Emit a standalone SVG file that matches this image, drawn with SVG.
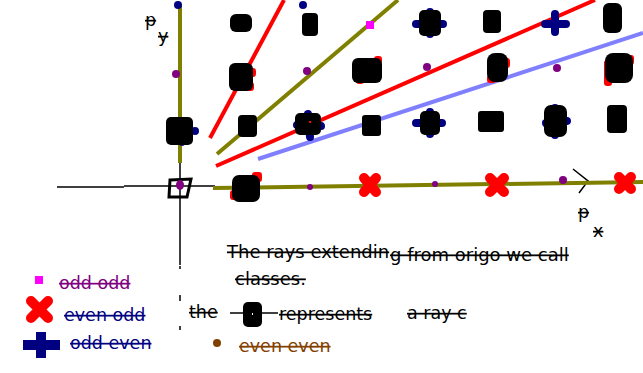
<svg xmlns="http://www.w3.org/2000/svg" width="643" height="373" viewBox="0 0 643 373">
<style>
text{font-family:"DejaVu Sans",Verdana,sans-serif;font-size:17.5px;text-decoration:line-through;}
.big{font-size:18px}
.blk{fill:#000}
.axis{stroke:#000;stroke-width:1.5;fill:none}
.ray{stroke-width:4;fill:none}
.pur{fill:#800080}
.nav{fill:#000080}
.rx{stroke:#ff0000;stroke-width:10;stroke-linecap:round;fill:none}
.bp{stroke:#000080;stroke-width:8;stroke-linecap:round;fill:none}
.rd{fill:#ff0000}
</style>
<rect width="643" height="373" fill="#fff"/>
<g id="axes">
<line class="axis" x1="57" y1="187" x2="124" y2="187"/>
<line class="axis" x1="124" y1="186" x2="215" y2="186"/>
<line class="axis" x1="180" y1="80" x2="180" y2="265"/>
<line class="axis" x1="180" y1="266" x2="180" y2="269"/>
<line class="axis" x1="180" y1="295" x2="180" y2="301"/>
<line class="axis" x1="180" y1="326" x2="180" y2="330"/>
<polyline class="axis" points="573,169 588,181 579,193" stroke-width="1"/>
</g>
<g id="connectors">
<line class="ray" stroke="#808000" x1="180" y1="6" x2="180" y2="163"/>
<line class="ray" stroke="#808000" x1="213" y1="188" x2="643" y2="182"/>
<line class="ray" stroke="#ff0000" x1="210" y1="138" x2="284" y2="0"/>
<line class="ray" stroke="#808000" x1="217" y1="154" x2="398" y2="0"/>
<line class="ray" stroke="#ff0000" x1="216" y1="166" x2="595" y2="0"/>
<line class="ray" stroke="#8080ff" x1="258" y1="159" x2="643" y2="33"/>
</g>
<g id="origin">
<path d="M170,180 L191,179 L187,197 L169,197 Z" fill="none" stroke="#000" stroke-width="3"/>
<ellipse class="pur" cx="180" cy="185" rx="4" ry="5"/>
</g>
<g id="row0">
<g id="n1_0"><rect class="rd" x="252" y="172" width="10" height="10" rx="3"/><rect class="rd" x="230" y="190" width="8" height="10" rx="3"/><rect class="blk" x="232" y="175" width="28" height="27" rx="7"/></g>
<circle class="pur" cx="310" cy="187" r="3"/>
<g id="n3_0"><path class="rx" d="M364,178 L376,192 M376,178 L364,192"/></g>
<circle class="pur" cx="435" cy="184" r="3"/>
<g id="n5_0"><path class="rx" d="M490,178 L504,192 M504,178 L490,192"/></g>
<circle class="pur" cx="563" cy="180" r="4"/>
<g id="n7_0"><path class="rx" d="M619,177 L631,189 M631,177 L619,189"/></g>
</g>
<g id="row1">
<g id="n0_1"><circle class="nav" cx="195" cy="131" r="4"/><circle class="nav" cx="182" cy="143" r="3"/><rect class="blk" x="166" y="117" width="27" height="28" rx="5"/></g>
<g id="n1_1"><rect class="blk" x="238" y="115" width="19" height="22" rx="4"/></g>
<g id="n2_1"><path class="bp" d="M308,114 L310,137 M297,125 L321,126"/><rect class="blk" x="295" y="113" width="26" height="22" rx="5"/><rect x="309" y="121" width="2" height="2" fill="#ff0000"/></g>
<g id="n3_1"><rect class="blk" x="362" y="115" width="19" height="21" rx="3"/></g>
<g id="n4_1"><path class="bp" d="M430,112 L430,134 M416,123 L442,123"/><rect class="blk" x="420" y="111" width="20" height="24" rx="5"/></g>
<g id="n5_1"><rect class="blk" x="478" y="111" width="26" height="21" rx="3"/></g>
<g id="n6_1"><path class="bp" d="M555,108 L555,135 M546,123 L567,121"/><rect class="blk" x="544" y="105" width="23" height="32" rx="7"/></g>
<g id="n7_1"><rect class="blk" x="607" y="105" width="20" height="28" rx="4"/></g>
</g>
<g id="row2">
<g id="n0_2"><circle class="pur" cx="176" cy="74" r="4"/></g>
<g id="n1_2"><rect class="rd" x="247" y="68" width="9" height="9" rx="3"/><rect class="rd" x="245" y="82" width="9" height="9" rx="3"/><rect class="blk" x="229" y="63" width="24" height="28" rx="6"/></g>
<circle class="pur" cx="307" cy="71" r="4"/>
<g id="n3_2"><rect class="rd" x="374" y="56" width="8" height="8" rx="3"/><rect class="rd" x="356" y="76" width="8" height="8" rx="3"/><rect class="blk" x="352" y="58" width="30" height="25" rx="6"/></g>
<circle class="pur" cx="427" cy="67" r="4"/>
<g id="n5_2"><rect class="rd" x="502" y="58" width="8" height="10" rx="3"/><rect class="rd" x="487" y="75" width="9" height="8" rx="3"/><rect class="blk" x="487" y="53" width="21" height="29" rx="8"/></g>
<circle class="pur" cx="557" cy="68" r="4"/>
<g id="n7_2"><rect class="rd" x="604" y="60" width="8" height="26" rx="3"/><rect class="rd" x="625" y="55" width="9" height="10" rx="3"/><rect class="blk" x="605" y="53" width="28" height="30" rx="8"/></g>
</g>
<g id="row3">
<circle class="nav" cx="178" cy="5" r="4"/>
<g id="n1_3"><rect class="blk" x="230" y="14" width="22" height="18" rx="6"/></g>
<g id="n2_3"><circle class="nav" cx="303" cy="5" r="4"/><rect class="blk" x="302" y="13" width="16" height="23" rx="4"/></g>
<g id="n3_3"><rect x="366" y="21" width="8" height="8" fill="#ff00ff"/></g>
<g id="n4_3"><path class="bp" d="M430,12 L430,34 M416,24 L443,24"/><rect class="blk" x="419" y="10" width="22" height="26" rx="5"/></g>
<g id="n5_3"><rect class="blk" x="483" y="10" width="18" height="23" rx="4"/></g>
<g id="n6_3"><path class="bp" d="M555,14 L555,32 M545,24 L566,24"/></g>
<g id="n7_3"><rect class="blk" x="603" y="3" width="19" height="30" rx="6"/></g>
</g>
<g id="labels">
<text x="145" y="26">p</text>
<text x="158" y="42">y</text>
<text x="578" y="218">p</text>
<text x="593" y="237">x</text>
</g>
<g id="legend">
<rect x="35" y="276" width="8" height="8" fill="#ff00ff"/>
<text x="59" y="289" fill="#800080">odd odd</text>
<path class="rx" d="M31,301 L48,318 M48,301 L31,318" stroke-width="14"/>
<text x="64" y="321" fill="#000080">even odd</text>
<path d="M41,332 L41,358 M23,345 L60,345" stroke="#000080" stroke-width="10" fill="none"/>
<text x="70" y="349" fill="#000080">odd even</text>
<circle cx="217" cy="343" r="4" fill="#804000"/>
<text x="239" y="352" fill="#804000">even even</text>
</g>
<g id="note">
<text class="big" x="227" y="258">The rays extendin</text>
<text class="big" x="390" y="261">g from origo we call</text>
<text class="big" x="235" y="285">classes.</text>
<text x="189" y="318">the</text>
<line x1="230" y1="313" x2="278" y2="313" stroke="#000" stroke-width="1.5"/>
<rect class="blk" x="243" y="302" width="19" height="25" rx="5"/>
<rect x="252" y="313" width="1" height="2" fill="#fff"/>
<text x="279" y="320">represents</text>
<text x="407" y="319">a ray c</text>
</g>
</svg>
